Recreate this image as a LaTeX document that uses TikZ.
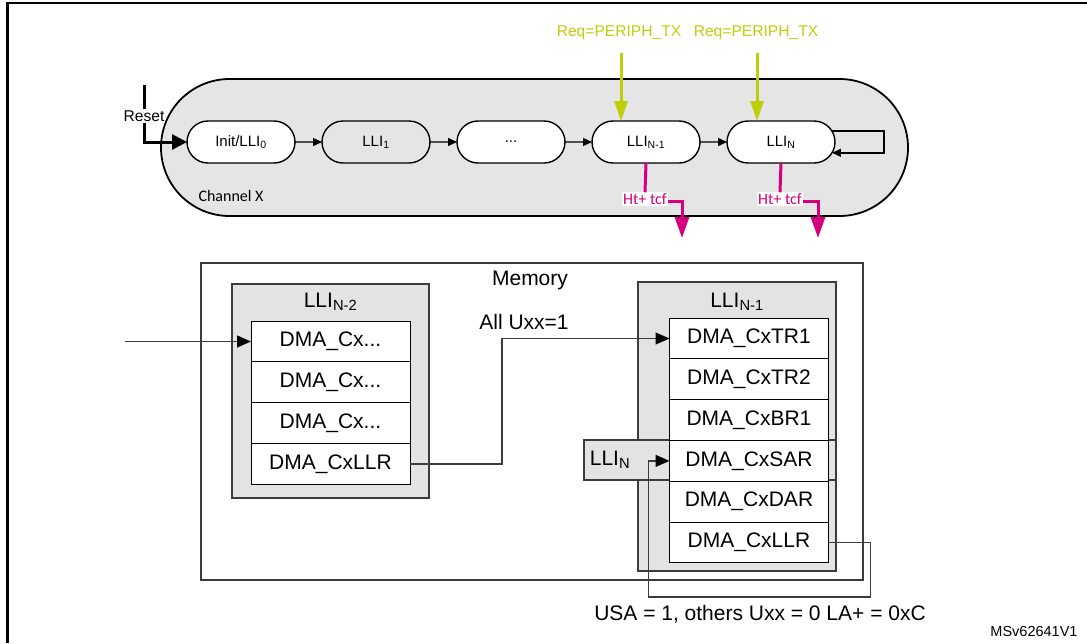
\documentclass[tikz,border=0pt]{standalone}
\usepackage{fontspec}
\setmainfont{Liberation Sans}
\newfontfamily\calfont{Carlito}
\usepackage{tikz}
\usetikzlibrary{shapes.misc, arrows.meta, positioning, calc}
\definecolor{reqgreen}{RGB}{190,206,8}
\definecolor{htpink}{RGB}{214,0,127}
\definecolor{memline}{RGB}{60,60,60}
\tikzset{channel/.style={rounded rectangle,draw,line width=1.8pt,fill=gray!20,minimum width=747pt,minimum height=137pt,inner sep=0pt},
         state/.style={rounded rectangle,draw,line width=1.4pt,fill=white,minimum width=108pt,minimum height=42pt,inner sep=0pt,outer sep=0pt,font=\fontsize{15}{18}\selectfont},
         small/.style={font=\fontsize{15.6}{18}\selectfont,inner sep=1pt},
         htlabel/.style={fill=white,inner sep=1pt,text=htpink,font=\calfont\fontsize{16}{18}\selectfont},
         membox/.style={rectangle,draw=memline,line width=1.2pt,inner sep=0pt},
         llibox/.style={rectangle,draw=memline,fill=gray!22,line width=1.2pt,inner sep=0pt,outer sep=0pt},
         reg/.style={rectangle,draw,fill=white,line width=1pt,minimum width=159pt,minimum height=40.8pt,inner sep=0pt,outer sep=0pt},
         memtext/.style={font=\fontsize{21}{25}\selectfont,inner sep=1pt},
         trans/.style={-{Triangle[length=9pt,width=8pt]},line width=1.4pt},
         resetarrow/.style={-{Triangle[length=15pt,width=15pt]},line width=3pt},
         reqarrow/.style={-{Triangle[length=20pt,width=13pt]},line width=3pt,draw=reqgreen,color=reqgreen},
         htarrow/.style={-{Triangle[length=21pt,width=14pt]},line width=3pt,draw=htpink,color=htpink},
         memarrow/.style={-{Triangle[length=14pt,width=12pt,black]},line width=1.2pt,draw=memline}}

\begin{document}
\begin{tikzpicture}[x=1pt,y=-1pt]
    \useasboundingbox (0,0) rectangle (1087,643);
    % Frame
    \draw[line width=2.4pt] (7.5,643) -- (7.5,3) -- (1087,3);
    % Channel
    \node (chan) [channel] at (534.5,147.5) {};
    \node (chanlbl) [font=\calfont\fontsize{16}{18}\selectfont] at (231,196) {Channel X};
    % States
    \node (init) [state] at (241,142) {Init/LLI\textsubscript{0}};
    \node (lli1) [state, fill=none, right=27pt of init] {LLI\textsubscript{1}};
    \node (dots) [state, right=27pt of lli1] {...};
    \node (llinm) [state, right=27pt of dots] {LLI\textsubscript{N-1}};
    \node (llin) [state, right=27pt of llinm] {LLI\textsubscript{N}};
    \draw[trans] (init) -- (lli1);
    \draw[trans] (lli1) -- (dots);
    \draw[trans] (dots) -- (llinm);
    \draw[trans] (llinm) -- (llin);
    \draw[trans] (llin.12) -- ++(52,0) |- (llin.-12);
    % Reset
    \coordinate (rst) at (144,85);
    \node (resetlbl) [small] at (144,116) {Reset};
    \draw[line width=3pt] (rst) -- (resetlbl.north);
    \draw[resetarrow] (resetlbl.south) |- (init.west);
    % Requests
    \node (reqa) [small, text=reqgreen] at (619,33) {Req=PERIPH\_TX};
    \node (reqb) [small, text=reqgreen] at (756,33) {Req=PERIPH\_TX};
    \coordinate (reqina) at (621,53);
    \coordinate (reqinb) at (757,53);
    \draw[reqarrow] (reqina) -- (reqina |- llinm.north);
    \draw[reqarrow] (reqinb) -- (reqinb |- llin.north);
    % Ht+ tcf outputs
    \node (hta) [htlabel] at (645,199) {Ht+ tcf};
    \node (htb) [htlabel] at (780,199) {Ht+ tcf};
    \coordinate (htouta) at (682,238);
    \coordinate (htoutb) at (818,238);
    \draw[line width=3pt, draw=htpink] (llinm.south) -- (hta.north);
    \draw[line width=3pt, draw=htpink] (llin.south) -- (htb.north);
    \draw[htarrow] (hta.mid east) -| (htouta);
    \draw[htarrow] (htb.mid east) -| (htoutb);
    % Memory
    \node (mem) [membox, minimum width=662pt, minimum height=317pt] at (532,421.5) {};
    \node (memlbl) [memtext] at (530,280) {Memory};
    % LLI N-2
    \node (llia) [llibox, minimum width=197pt, minimum height=214pt] at (330.5,391) {};
    \node (lliatitle) [memtext] at (330.5,302) {LLI\textsubscript{N-2}};
    \node (a1) [reg, memtext] at (330.5,341.5) {DMA\_Cx...};
    \node (a2) [reg, memtext, below=0pt of a1] {DMA\_Cx...};
    \node (a3) [reg, memtext, below=0pt of a2] {DMA\_Cx...};
    \node (a4) [reg, memtext, below=0pt of a3] {DMA\_CxLLR};
    % LLI N-1
    \node (llib) [llibox, minimum width=198pt, minimum height=289pt] at (737,426.5) {};
    \node (llibtitle) [memtext] at (737,302) {LLI\textsubscript{N-1}};
    \node (llinbox) [llibox, minimum width=252pt, minimum height=40pt] at (710,460) {};
    \node (llinlbl) [memtext] at (610,460) {LLI\textsubscript{N}};
    \node (b1) [reg, memtext] at (749,338.5) {DMA\_CxTR1};
    \node (b2) [reg, memtext, below=0pt of b1] {DMA\_CxTR2};
    \node (b3) [reg, memtext, below=0pt of b2] {DMA\_CxBR1};
    \node (b4) [reg, memtext, below=0pt of b3] {DMA\_CxSAR};
    \node (b5) [reg, memtext, below=0pt of b4] {DMA\_CxDAR};
    \node (b6) [reg, memtext, below=0pt of b5] {DMA\_CxLLR};
    % Links
    \coordinate (memin) at (125,341.5);
    \draw[memarrow] (memin) -- (a1.west);
    \draw[memarrow] (a4.east) -- ++(92,0) |- (b1.west);
    \node (alluxx) [memtext] at (524,322) {All Uxx=1};
    \draw[memarrow] (b6.east) -- ++(42,0) -- ++(0,54.5) -| ([xshift=-21pt]b4.west) -- (b4.west);
    \node (usalbl) [memtext] at (760,614) {USA = 1, others Uxx = 0 LA+ = 0xC};
    \node (figid) [font=\fontsize{14.5}{17}\selectfont] at (1034,631) {MSv62641V1};
\end{tikzpicture}
\end{document}
